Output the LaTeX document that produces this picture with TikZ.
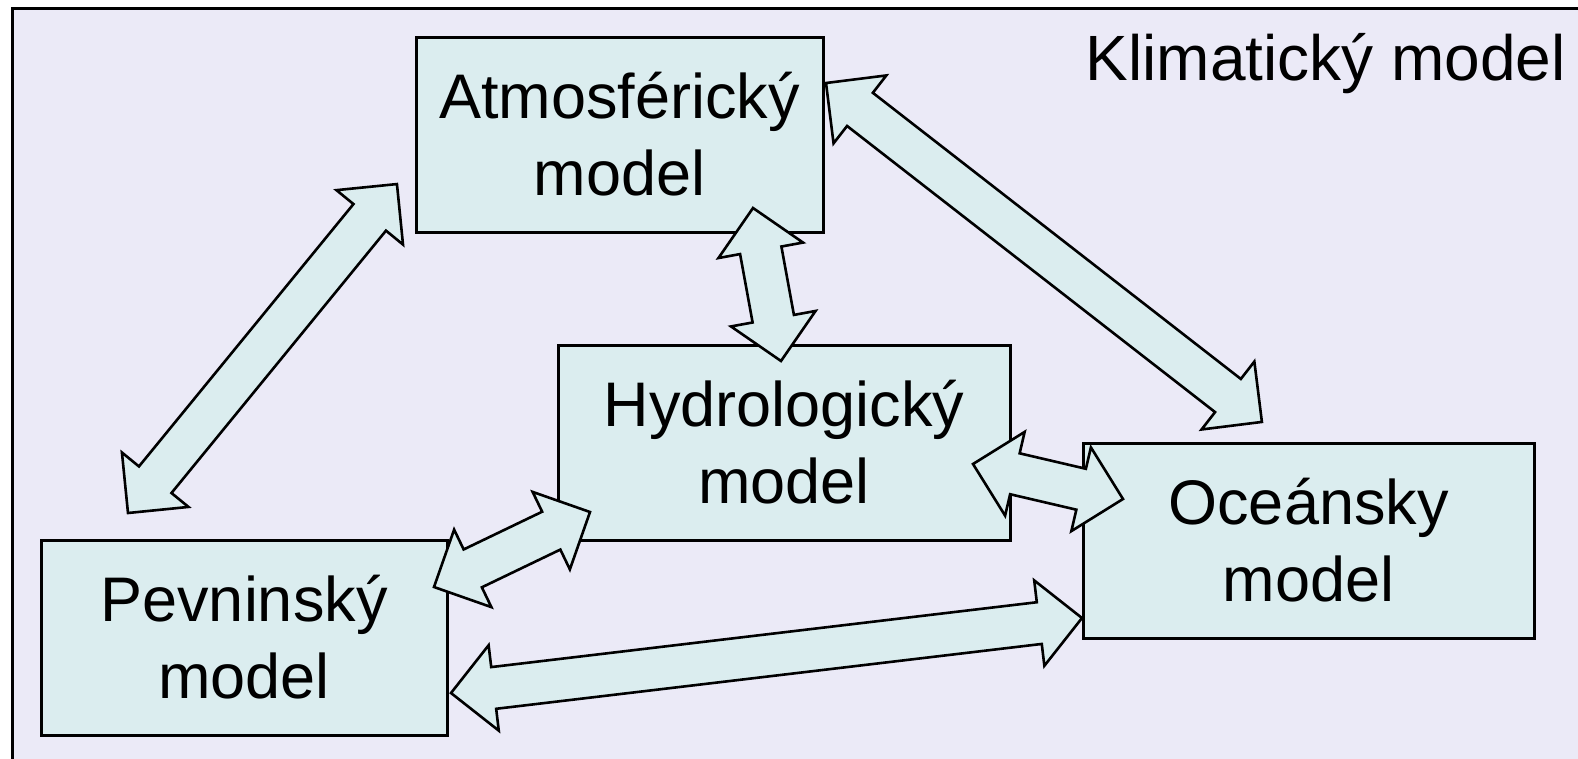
\documentclass[tikz,border=0pt]{standalone}
\usepackage{fontspec}
\setmainfont{Liberation Sans}
\usetikzlibrary{calc}
\definecolor{bglav}{RGB}{235,234,247}
\definecolor{boxcyan}{RGB}{219,237,239}
\tikzset{
  mbox/.style={draw=black, line width=3pt, fill=boxcyan, align=center, inner sep=0pt,
    minimum height=195pt, font=\fontsize{63}{77}\selectfont},
  blockarrow/.style={draw=black, line width=2.6pt, fill=boxcyan, line join=miter},
}
\newcommand\dblarrow[2]{%
  \path let \p1=(#1), \p2=(#2) in
    \pgfextra{\pgfmathsetmacro\arrang{atan2(\y2-\y1,\x2-\x1)}%
      \pgfmathsetmacro\arrlen{veclen(\x2-\x1,\y2-\y1)}%
      \pgfmathsetmacro\arrb{\arrlen-43}%
      \global\let\arrang\arrang\global\let\arrlen\arrlen\global\let\arrb\arrb};
  \draw[blockarrow, shift={(#1)}, rotate=\arrang]
    (0pt,0pt) -- (43pt,43pt) -- (43pt,21pt) -- (\arrb pt,21pt) -- (\arrb pt,43pt)
    -- (\arrlen pt,0pt) -- (\arrb pt,-43pt) -- (\arrb pt,-21pt) -- (43pt,-21pt)
    -- (43pt,-43pt) -- cycle;
}
\begin{document}
\begin{tikzpicture}[x=1pt,y=-1pt]
\useasboundingbox (0,0) rectangle (1578,758);
\clip (0,0) rectangle (1578,758);
\fill[white] (0,0) rectangle (1578,758);
\draw[line width=3pt, fill=bglav] (12,8) rectangle (1610,790);

\node[mbox, minimum width=407pt] (atmo) at (619.5,134.5) {Atmosférický\\model};
\node[mbox, minimum width=452pt] (hydro) at (784,442.5) {Hydrologický\\model};
\node[mbox, minimum width=406pt] (pevn) at (244,637.5) {Pevninský\\model};
\node[mbox, minimum width=451pt] (ocean) at (1308.5,540.5) {Oceánsky\\model};

\node[anchor=base east, inner sep=0pt, font=\fontsize{64}{77}\selectfont] (title) at (1566,80) {Klimatický model};

% arrow end points
\coordinate (pa) at (128,513);   \coordinate (ap) at (397,184);
\coordinate (ah) at (753,208);   \coordinate (ha) at (781,361);
\coordinate (ao) at (826,83);    \coordinate (oa) at (1262,422);
\coordinate (ph) at (434,587);   \coordinate (hp) at (590,512);
\coordinate (ho) at (973,464);   \coordinate (oh) at (1123,499);
\coordinate (po) at (451,693);   \coordinate (op) at (1082,618);

\dblarrow{pa}{ap}
\dblarrow{ah}{ha}
\dblarrow{ao}{oa}
\dblarrow{ph}{hp}
\dblarrow{ho}{oh}
\dblarrow{po}{op}
\end{tikzpicture}
\end{document}
